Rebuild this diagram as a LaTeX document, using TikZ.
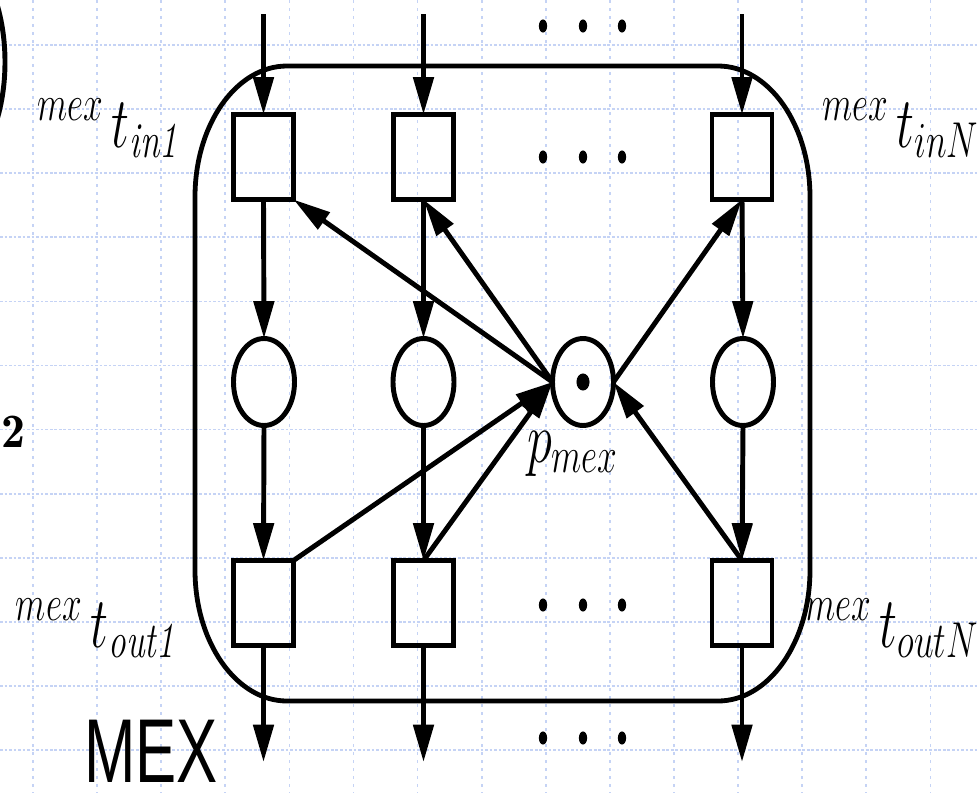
\RequirePackage{fix-cm}
\documentclass[tikz,border=0pt]{standalone}
\usepackage{graphicx}
\usepackage{fontspec}
\newfontfamily\mexfont{Liberation Sans}
\usetikzlibrary{arrows.meta,shapes.geometric}
\definecolor{gridblue}{RGB}{197,211,245}
\newcommand\hsq[1]{\scalebox{0.7}[1]{#1}}
\newcommand\bigmath{\fontsize{54}{60}\selectfont}
\tikzset{
  trans/.style={draw, rectangle, minimum width=45pt, minimum height=63.75pt, inner sep=0pt, outer sep=0pt, line width=3.7pt},
  place/.style={draw, ellipse, minimum width=45.75pt, minimum height=65.25pt, inner sep=0pt, outer sep=0pt, line width=3.7pt},
  flow/.style={line width=3.7pt, -{Triangle[length=28pt,width=15pt]}},
  gridh/.style={gridblue, line width=1.3pt, dash pattern=on 2pt off 1.4pt},
  gridv/.style={gridblue, line width=1.3pt, dash pattern=on 2.2pt off 3.8pt},
  lab/.style={inner sep=0pt, outer sep=0pt, anchor=base west},
  frame/.style={line width=3.6pt}
}
\begin{document}
\begin{tikzpicture}[x=0.75pt,y=-0.75pt]
\useasboundingbox (0,0) rectangle (978,793);
\clip (0,0) rectangle (978,793);
\fill[white] (0,0) rectangle (978,793);
% background grid
\foreach \k in {0,...,11} \draw[gridh] (0,{45+64.1*\k}) -- (978,{45+64.1*\k});
\foreach \k in {0,...,14} \draw[gridv] ({33+64.1*\k},0) -- ({33+64.1*\k},793);

% fragment at the left edge
\draw[line width=3.7pt] (-60,62) ellipse[x radius=48.75pt, y radius=90pt];
\node[lab] (two) at (2,447) {\fontsize{36}{40}\selectfont$\mathbf{2}$};

% MEX frame
\draw[frame] (287,66) -- (718,66)
  arc[start angle=90, end angle=0, x radius=69pt, y radius=98.25pt]
  -- (810,570)
  arc[start angle=0, end angle=-90, x radius=69pt, y radius=98.25pt]
  -- (287,701)
  arc[start angle=-90, end angle=-180, x radius=69pt, y radius=98.25pt]
  -- (195,197)
  arc[start angle=180, end angle=90, x radius=69pt, y radius=98.25pt]
  -- cycle;

% transitions and places
\node[trans] (i1) at (263.5,157) {};
\node[trans] (i2) at (423.5,157) {};
\node[trans] (iN) at (742,157) {};
\node[place] (e1) at (264,382) {};
\node[place] (e2) at (423.5,382) {};
\node[place] (eN) at (743,382) {};
\node[place] (pm) at (583,382) {};
\node[trans] (o1) at (263.5,603) {};
\node[trans] (o2) at (423.5,603) {};
\node[trans] (oN) at (742,603) {};
\fill (pm.center) ellipse[x radius=4.9pt, y radius=6.4pt];

% free ends
\coordinate (t1) at (263.5,14);
\coordinate (t2) at (423.5,14);
\coordinate (tN) at (742,14);
\coordinate (b1) at (263.5,762);
\coordinate (b2) at (423.5,762);
\coordinate (bN) at (742,762);

% vertical flows
\foreach \c in {1,2,N}{
  \draw[flow] (t\c) -- (i\c.north);
  \draw[flow] (i\c.south) -- (e\c.north);
  \draw[flow] (e\c.south) -- (o\c.north);
  \draw[flow] (o\c.south) -- (b\c);
}

% arcs of the mutex place
\draw[flow] (pm.west) -- (i1.south east);
\draw[flow] (pm.west) -- (i2.south);
\draw[flow] (pm.east) -- (iN.south);
\draw[flow] (o1.north east) -- (pm.west);
\draw[flow] (o2.north) -- (pm.west);
\draw[flow] (oN.north) -- (pm.east);

% ellipsis dots
\foreach \y in {26,157,605,738}{
  \foreach \x in {543,583,622}{
    \fill (\x,\y) ellipse[x radius=3.1pt, y radius=4.9pt];
  }
}

% labels
\node[lab] (lin1) at (37,147) {\hsq{\bigmath${}^{mex}\,t_{\mathit{in1}}$}};
\node[lab] (linN) at (822,147) {\hsq{\bigmath${}^{mex}\,t_{inN}$}};
\node[lab] (lout1) at (16,647) {\hsq{\bigmath${}^{mex}\,t_{\mathit{out1}}$}};
\node[lab] (loutN) at (805,647) {\hsq{\bigmath${}^{mex}\,t_{outN}$}};
\node[lab] (lpm) at (527,462) {\hsq{\bigmath$p_{mex}$}};
\node[lab] (mexlab) at (84,782) {\raisebox{0pt}[\height][0pt]{\scalebox{0.68}[1]{\mexfont\fontsize{68}{70}\selectfont MEX}}};
\end{tikzpicture}
\end{document}
